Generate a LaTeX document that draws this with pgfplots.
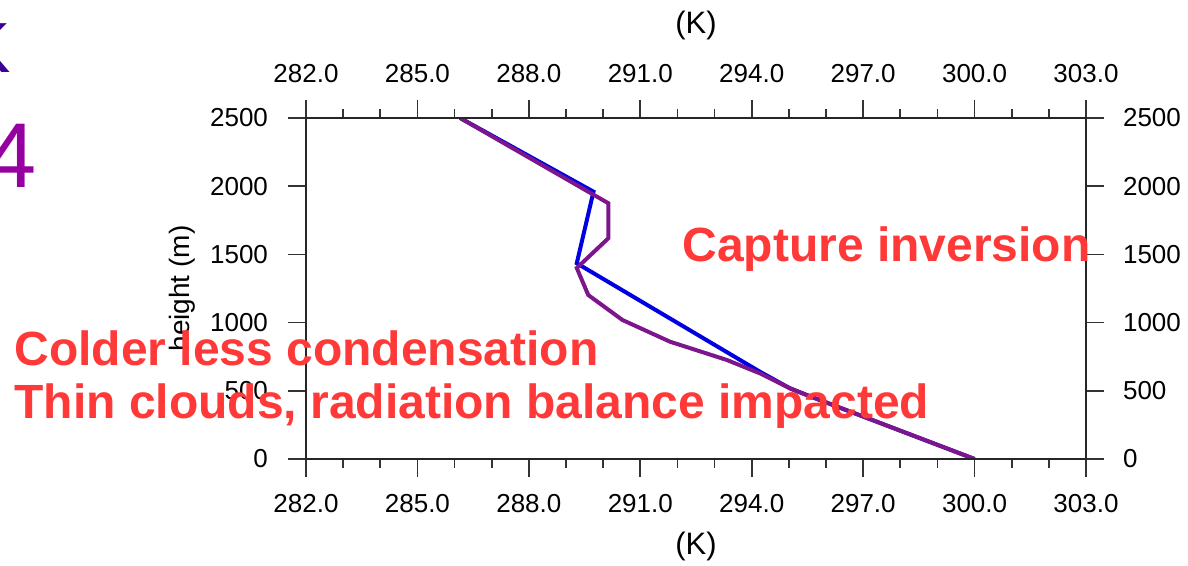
\documentclass[border=0pt]{standalone}
\usepackage{fontspec}
\setmainfont{Liberation Sans}
\usepackage{pgfplots}
\pgfplotsset{compat=1.18}
\definecolor{annot}{RGB}{255,56,56}
\definecolor{lblue}{RGB}{0,0,225}
\definecolor{lpurple}{RGB}{125,22,140}
\definecolor{kcol}{RGB}{60,0,150}
\definecolor{fcol}{RGB}{150,0,160}
\pgfplotsset{
  base/.style={
    at={(153pt,53.5pt)}, anchor=south west, scale only axis,
    width=390pt, height=170.5pt,
    xmin=282, xmax=303, ymin=0, ymax=2500,
    xtick={282,285,288,291,294,297,300,303},
    minor x tick num=2,
    ytick={0,500,1000,1500,2000,2500},
    tick align=outside, tick pos=both,
    major tick length=9pt, minor tick length=4.5pt,
    axis line style={black!85, line width=0.9pt},
    tick style={black!80, line width=0.8pt},
    tick label style={font=\fontsize{13}{15}\selectfont},
    /pgf/number format/assume math mode=true,
    x tick label style={/pgf/number format/fixed, /pgf/number format/fixed zerofill, /pgf/number format/precision=1},
    y tick label style={/pgf/number format/1000 sep={}},
  }
}
\begin{document}
\begin{tikzpicture}
\useasboundingbox (0,0) rectangle (594pt,283pt);
\clip (0,0) rectangle (594pt,283pt);
\begin{axis}[base, xticklabel pos=lower, yticklabel pos=left,
  x tick label style={yshift=-5pt}, y tick label style={xshift=-6.5pt}]
\addplot[lblue, line width=2pt] coordinates {
(286.15,2500) (289.74,1960) (289.29,1435) (294.22,640) (295.03,518) (295.48,469) (300.0,0)};
\addplot[lpurple, line width=2pt] coordinates {
(286.15,2500) (290.14,1875) (290.14,1618) (289.29,1400) (289.60,1202) (290.52,1019)
(291.80,860) (293.33,726) (294.22,628) (295.03,518) (295.48,469) (300.0,0)};
\end{axis}
\begin{axis}[base, xticklabel pos=upper, yticklabel pos=right,
  x tick label style={yshift=5pt}, y tick label style={xshift=6pt}]
\end{axis}
\node[font=\fontsize{15.5}{18}\selectfont] at (348pt,10pt) {(K)};
\node[font=\fontsize{15.5}{18}\selectfont] at (348pt,270.5pt) {(K)};
\node[font=\fontsize{14}{16}\selectfont, rotate=90] at (91pt,138.75pt) {height (m)};
\begin{scope}[every node/.style={inner sep=0pt, text=annot, font=\fontsize{24}{28}\selectfont\bfseries}]
\node[anchor=base west] at (341pt,152pt) {Capture inversion};
\node[anchor=base west] at (7pt,100pt) {Colder less condensation};
\node[anchor=base west] at (7pt,73.5pt) {Thin clouds, radiation balance impacted};
\end{scope}
\node[anchor=base east, inner sep=0pt, text=kcol, font=\fontsize{35.5}{40}\selectfont] at (5.5pt,246.5pt) {K};
\node[anchor=base east, inner sep=0pt, text=fcol, font=\fontsize{46}{50}\selectfont] at (18.5pt,189pt) {4};
\end{tikzpicture}
\end{document}
